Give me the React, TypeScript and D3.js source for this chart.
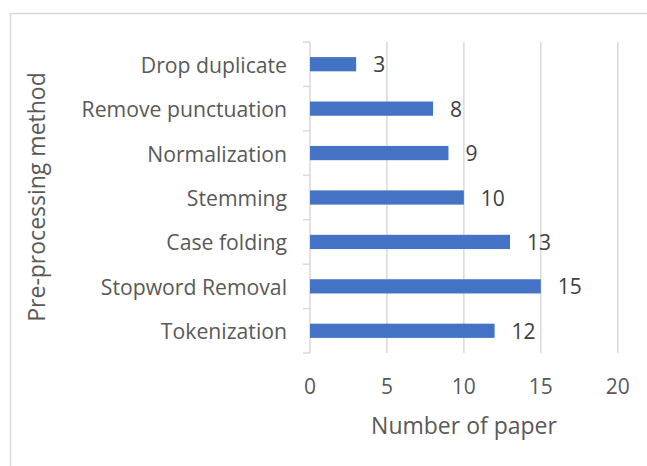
import React, { useEffect, useRef } from "react";
import * as d3 from "d3";

const categories = [
  "Drop duplicate",
  "Remove punctuation",
  "Normalization",
  "Stemming",
  "Case folding",
  "Stopword Removal",
  "Tokenization",
];
const values = [3, 8, 9, 10, 13, 15, 12];
const xTicks = [0, 5, 10, 15, 20];
const xTitle = "Number of paper";
const yTitle = "Pre-processing method";

const W = 647;
const H = 466;
const FONT = "'Open Sans', 'Noto Sans', sans-serif";

export default function App() {
  const ref = useRef<SVGSVGElement | null>(null);

  useEffect(() => {
    const svg = d3.select(ref.current);
    svg.selectAll("*").remove();

    const plot = { left: 310, right: 617.7, top: 42, bottom: 353 };

    const x = d3.scaleLinear().domain([0, 20]).range([plot.left, plot.right]);
    const y = d3
      .scaleBand<string>()
      .domain(categories)
      .range([plot.top, plot.bottom])
      .paddingInner(0.68)
      .paddingOuter(0.34);

    // chart frame
    svg
      .append("rect")
      .attr("x", 10.5)
      .attr("y", 13.5)
      .attr("width", W + 20)
      .attr("height", H + 20)
      .attr("fill", "white")
      .attr("stroke", "#D9D9D9")
      .attr("stroke-width", 1.5);

    // vertical gridlines
    svg
      .append("g")
      .selectAll("line")
      .data(xTicks.filter((t) => t !== 0))
      .join("line")
      .attr("x1", (d) => x(d))
      .attr("x2", (d) => x(d))
      .attr("y1", plot.top)
      .attr("y2", plot.bottom)
      .attr("stroke", "#D9D9D9")
      .attr("stroke-width", 1.5);

    // category axis line with band-boundary ticks
    const axis = svg.append("g");
    axis
      .append("line")
      .attr("x1", plot.left)
      .attr("x2", plot.left)
      .attr("y1", plot.top)
      .attr("y2", plot.bottom)
      .attr("stroke", "#D9D9D9")
      .attr("stroke-width", 1.5);
    const step = (plot.bottom - plot.top) / categories.length;
    axis
      .selectAll("line.tick")
      .data(d3.range(categories.length + 1))
      .join("line")
      .attr("class", "tick")
      .attr("x1", plot.left - 7)
      .attr("x2", plot.left)
      .attr("y1", (i) => plot.top + i * step)
      .attr("y2", (i) => plot.top + i * step)
      .attr("stroke", "#D9D9D9")
      .attr("stroke-width", 1.5);

    // bars
    svg
      .append("g")
      .selectAll("rect")
      .data(categories)
      .join("rect")
      .attr("x", x(0))
      .attr("y", (d) => y(d)!)
      .attr("width", (_, i) => x(values[i]) - x(0))
      .attr("height", y.bandwidth())
      .attr("fill", "#4472C4");

    // value labels
    svg
      .append("g")
      .selectAll("text")
      .data(categories)
      .join("text")
      .attr("x", (_, i) => x(values[i]) + 17)
      .attr("y", (d) => y(d)! + y.bandwidth() / 2)
      .attr("dominant-baseline", "central")
      .attr("font-family", FONT)
      .attr("font-size", 21)
      .attr("fill", "#404040")
      .text((_, i) => String(values[i]));

    // category labels
    svg
      .append("g")
      .selectAll("text")
      .data(categories)
      .join("text")
      .attr("x", 287)
      .attr("y", (d) => y(d)! + y.bandwidth() / 2)
      .attr("text-anchor", "end")
      .attr("dominant-baseline", "central")
      .attr("font-family", FONT)
      .attr("font-size", 21.2)
      .attr("fill", "#595959")
      .text((d) => d);

    // x tick labels
    svg
      .append("g")
      .selectAll("text")
      .data(xTicks)
      .join("text")
      .attr("x", (d) => x(d))
      .attr("y", 386)
      .attr("text-anchor", "middle")
      .attr("dominant-baseline", "central")
      .attr("font-family", FONT)
      .attr("font-size", 21)
      .attr("fill", "#595959")
      .text((d) => String(d));

    // axis titles
    svg
      .append("text")
      .attr("x", 464)
      .attr("y", 425)
      .attr("text-anchor", "middle")
      .attr("dominant-baseline", "central")
      .attr("font-family", FONT)
      .attr("font-size", 23)
      .attr("fill", "#595959")
      .text(xTitle);

    svg
      .append("text")
      .attr("transform", "translate(36,197) rotate(-90)")
      .attr("text-anchor", "middle")
      .attr("dominant-baseline", "central")
      .attr("font-family", FONT)
      .attr("font-size", 23)
      .attr("fill", "#595959")
      .text(yTitle);
  }, []);

  return (
    <svg
      ref={ref}
      width={W}
      height={H}
      style={{ position: "absolute", left: 0, top: 0, background: "white" }}
    />
  );
}
